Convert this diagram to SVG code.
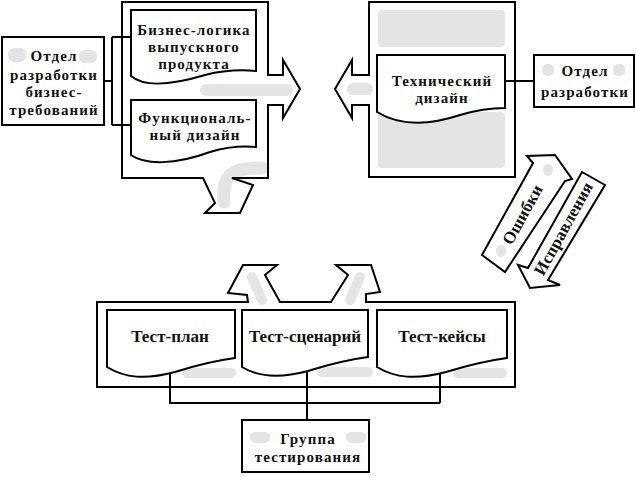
<svg xmlns="http://www.w3.org/2000/svg" width="636" height="477" viewBox="0 0 636 477">
<style>
.o{fill:none;stroke:#000;stroke-width:2;stroke-linejoin:miter}
.b{fill:#fff;stroke:#000;stroke-width:2}
.ln{fill:none;stroke:#000;stroke-width:2}
.g{fill:#e4e4e4}
.gs{fill:none;stroke:#e4e4e4;stroke-linecap:round}
.t{font-family:'Liberation Serif',serif;font-weight:bold;font-size:17px;text-anchor:middle;fill:#111}
.m{font-size:15px;letter-spacing:1.1px}
</style>
<rect width="636" height="477" fill="#fff"/>

<g id="left-container">
<rect class="g" x="200" y="84" width="93" height="12" rx="6"/>
<path class="gs" stroke-width="13" d="M262,168 C236,168 221,172 224,202"/>
<path class="o" d="M268,75 V2 H122 V178 H203 L215,203 L205,213 L240,213 L253,185 L232,178 H268 V105 H283 V118 L300,89 L283,60 V75 Z"/>
</g>

<g id="right-container">
<rect class="g" x="378" y="10" width="127" height="37" rx="4"/>
<rect class="g" x="378" y="112" width="127" height="56" rx="4"/>
<rect class="g" x="347" y="83" width="26" height="12" rx="6"/>
<path class="o" d="M369,75 V2 H515 V177 H369 V105 H352 V118 L335,89 L352,60 V75 Z"/>
</g>

<g id="bottom-container">
<path class="gs" stroke-width="10" d="M262,300 L252,277"/>
<path class="gs" stroke-width="10" d="M350,300 L360,277"/>
<rect class="g" x="182" y="368" width="54" height="10" rx="5"/>
<rect class="g" x="317" y="367" width="56" height="10" rx="5"/>
<rect class="g" x="453" y="368" width="54" height="10" rx="5"/>
<path class="o" d="M97,302 V387 H515 V302 H366 V294 L380,292 L371,265 L336,265 L348,275 L331,302 H280 L265,275 L277,265 L243,265 L228,293 L247,295 L248,302 Z"/>
</g>

<g id="connectors">
<path class="ln" d="M104,81 H112 M112,37 V125 M112,37 H131 M112,125 H131"/>
<path class="ln" d="M505,81 H534"/>
<path class="ln" d="M170,371 V403 H440 M440,365 V403 M307,366 V420"/>
</g>

<g id="node-business-dept">
<rect class="b" x="2" y="37" width="102" height="88"/>
<rect class="g" x="8" y="48" width="18" height="14" rx="6"/>
<rect class="g" x="79" y="50" width="18" height="13" rx="6"/>
<text class="t m" x="54" y="61">Отдел</text>
<text class="t m" x="54" y="80">разработки</text>
<text class="t m" x="54" y="97">бизнес-</text>
<text class="t m" x="54" y="115">требований</text>
</g>

<g id="node-business-logic">
<path class="b" d="M131,76 V10 H256 V71 C245,70 225,70 205,75 C175,84 145,88 131,76 Z"/>
<text class="t m" x="194" y="35">Бизнес-логика</text>
<text class="t m" x="194" y="52">выпускного</text>
<text class="t m" x="194" y="69">продукта</text>
</g>

<g id="node-functional-design">
<path class="b" d="M131,155 V100 H256 V147 C245,146 230,146 210,152 C175,165 145,165 131,155 Z"/>
<text class="t m" x="195" y="123">Функциональ-</text>
<text class="t m" x="195" y="140">ный дизайн</text>
</g>

<g id="node-tech-design">
<path class="b" d="M377,112 V55 H505 V108 C495,108 480,109 460,115 C430,125 400,126 377,112 Z"/>
<text class="t m" x="442" y="86">Технический</text>
<text class="t m" x="442" y="103">дизайн</text>
</g>

<g id="node-dev-dept">
<rect class="b" x="534" y="55" width="100" height="52"/>
<rect class="g" x="542" y="64" width="12" height="12" rx="5"/>
<rect class="g" x="613" y="64" width="12" height="12" rx="5"/>
<text class="t m" x="585" y="76">Отдел</text>
<text class="t m" x="585" y="97">разработки</text>
</g>

<g id="node-errors">
<ellipse class="g" cx="548" cy="170" rx="5" ry="6"/>
<ellipse class="g" cx="501" cy="251" rx="5" ry="6"/>
<path class="o" d="M533,163 L527,156 L555,155 L572,179 L565,181 L505,272 L482,255 Z"/>
<text class="t" x="523" y="215" dy="5" transform="rotate(-61 523 215)">Ошибки</text>
</g>

<g id="node-fixes">
<path class="o" d="M582,172 L605,185 L548,280 L560,285 L530,288 L518,265 L528,268 Z"/>
<text class="t" x="564" y="229" dy="5" transform="rotate(-61 564 229)">Исправления</text>
</g>

<g id="node-test-plan">
<path class="b" d="M107,367 V310 H235 V358 C220,360 200,364 175,372 C145,380 125,378 107,367 Z"/>
<text class="t" x="170" y="342">Тест-план</text>
</g>

<g id="node-test-scenario">
<path class="b" d="M242,367 V310 H368 V357 C353,359 333,363 308,371 C278,379 258,377 242,367 Z"/>
<text class="t" x="305" y="342">Тест-сценарий</text>
</g>

<g id="node-test-cases">
<path class="b" d="M377,367 V310 H507 V358 C492,360 472,364 446,372 C416,380 395,378 377,367 Z"/>
<text class="t" x="442" y="342">Тест-кейсы</text>
</g>

<g id="node-test-group">
<rect class="b" x="242" y="420" width="127" height="52"/>
<rect class="g" x="250" y="432" width="20" height="11" rx="5"/>
<rect class="g" x="346" y="432" width="20" height="11" rx="5"/>
<text class="t m" x="308" y="444">Группа</text>
<text class="t m" x="308" y="462">тестирования</text>
</g>
</svg>
